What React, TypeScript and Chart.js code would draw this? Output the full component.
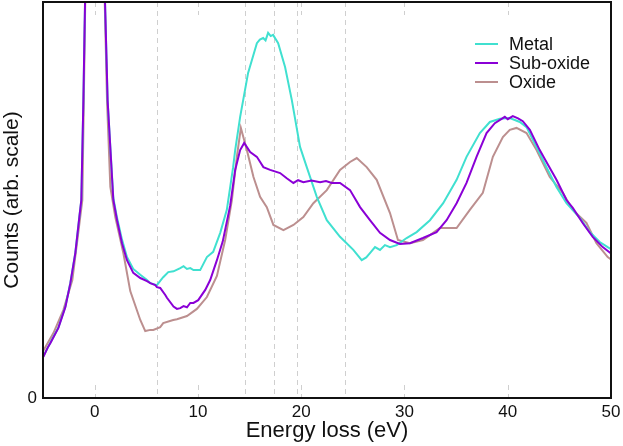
import React, { useEffect, useRef } from "react";
import { Chart, registerables } from "chart.js";

Chart.register(...registerables);

const FONT = "'Liberation Sans', Arial, Helvetica, sans-serif";

const seriesNames = ["Metal", "Sub-oxide", "Oxide"];
const seriesColors = ["#40E0D0", "#8A00D6", "#BC8F8F"];
const xTickValues = [0, 10, 20, 30, 40, 50];
const yTickValues = [0];
const markerEnergies = [6.0, 14.6, 17.4, 19.6, 24.2];
const stubEnergies = [0, 10, 20, 30, 40];

const metalEnergy = [-4.96, -4.28, -3.51, -2.83, -2.35, -1.87, -1.48, -1.29, -1.09, -0.8, 0, 0.8, 1.26, 1.81, 2.17, 2.65, 3.13, 3.74, 4.42, 5.07, 5.39, 6.03, 6.35, 6.64, 7.13, 7.64, 8.29, 8.61, 8.94, 9.26, 9.57, 10.22, 10.87, 11.48, 12.16, 12.8, 13.41, 13.61, 14.09, 14.86, 15.71, 16.0, 16.32, 16.55, 16.8, 17.05, 17.28, 17.77, 18.44, 19.09, 19.89, 20.54, 21.51, 22.48, 23.76, 25.05, 25.86, 26.3, 26.66, 27.15, 27.63, 28.11, 28.6, 29.25, 30.21, 31.18, 32.47, 33.75, 35.05, 36.01, 37.3, 38.27, 39.24, 40.2, 41.17, 41.82, 42.79, 43.75, 44.72, 45.69, 46.98, 47.94, 48.91, 49.68, 50];
const metalCounts = [10.6, 14.0, 17.8, 23.1, 29.1, 36.7, 45.8, 50, 75, 120, 400, 120, 75, 50.5, 45.5, 40.0, 35.6, 32.6, 31.1, 29.8, 29.0, 28.5, 29.6, 30.5, 31.8, 32.0, 32.8, 33.3, 32.6, 32.8, 32.3, 32.3, 35.6, 36.9, 41.7, 47.5, 58.3, 62.6, 71.0, 82.1, 89.6, 90.5, 90.9, 90.3, 92.2, 91.4, 91.7, 89.6, 83.6, 75.3, 63.4, 58.3, 50.8, 44.9, 40.7, 37.4, 34.8, 35.5, 36.6, 38.1, 37.4, 38.6, 38.1, 38.6, 40.4, 41.9, 44.9, 49.2, 55.1, 60.9, 66.9, 69.7, 70.5, 70.7, 69.7, 68.4, 63.4, 58.3, 53.3, 49.2, 45.5, 41.9, 39.4, 38.1, 37.6];

const subOxideEnergy = [-4.96, -4.57, -4.28, -3.51, -2.83, -2.35, -1.87, -1.48, -1.29, -1.09, -0.8, 0, 0.8, 1.26, 1.81, 2.17, 2.65, 3.13, 3.74, 4.42, 5.07, 5.39, 5.87, 6.03, 6.35, 6.84, 7.0, 7.64, 7.97, 8.29, 8.61, 8.94, 9.26, 9.57, 10.03, 10.71, 11.19, 11.84, 12.4, 13.12, 13.61, 14.09, 14.48, 15.06, 15.71, 16.34, 16.99, 17.96, 18.6, 19.25, 19.7, 20.21, 21.0, 21.83, 22.4, 22.96, 23.76, 24.73, 25.7, 26.66, 27.63, 28.6, 29.56, 30.53, 31.79, 33.11, 34.08, 35.05, 36.01, 36.98, 37.95, 38.75, 39.72, 40.0, 40.49, 41.0, 41.46, 42.14, 43.1, 43.75, 44.72, 45.69, 46.3, 47.26, 48.23, 49.2, 50];
const subOxideCounts = [10.4, 12.6, 13.9, 17.7, 23.0, 29.0, 36.6, 45.7, 50, 75, 120, 400, 120, 75, 50.0, 44.9, 39.1, 34.8, 31.6, 30.3, 29.5, 29.0, 28.5, 28.0, 27.8, 26.0, 25.3, 23.1, 22.5, 22.7, 23.2, 22.9, 24.0, 24.0, 24.7, 27.3, 29.8, 34.8, 39.5, 48.5, 57.6, 62.6, 64.4, 62.1, 60.9, 58.3, 57.6, 56.8, 55.5, 54.3, 55.0, 54.5, 54.9, 54.5, 54.8, 54.3, 54.3, 52.5, 48.2, 44.9, 41.7, 39.9, 38.9, 39.1, 40.4, 41.9, 44.9, 49.2, 54.3, 60.9, 66.9, 69.4, 71.0, 70.4, 71.2, 70.6, 69.9, 67.7, 62.6, 59.6, 55.1, 50.0, 48.0, 44.2, 40.7, 38.1, 36.5];

const oxideEnergy = [-4.96, -3.99, -3.03, -2.16, -1.67, -1.19, -1.05, -0.8, 0, 0.8, 1.2, 1.52, 2.0, 2.78, 3.45, 4.42, 4.9, 5.39, 5.68, 6.35, 6.64, 7.61, 7.97, 8.94, 9.9, 10.87, 11.84, 12.64, 13.29, 13.77, 14.16, 14.74, 15.38, 16.02, 16.67, 17.31, 18.28, 19.25, 20.21, 21.18, 22.48, 23.76, 24.73, 25.38, 26.34, 27.31, 28.6, 29.37, 30.53, 31.79, 33.43, 35.05, 36.33, 37.59, 38.56, 39.53, 40.2, 40.85, 41.82, 42.79, 44.07, 45.33, 46.3, 47.62, 48.59, 49.68, 50];
const oxideCounts = [12.0, 16.4, 22.2, 29.8, 39.9, 50.0, 75, 120, 400, 120, 75, 53.3, 45.7, 36.6, 27.0, 19.7, 16.9, 17.2, 17.2, 17.9, 18.9, 19.7, 19.9, 20.7, 22.5, 25.5, 30.8, 39.9, 50.0, 60.9, 68.2, 62.6, 55.8, 50.8, 48.2, 43.7, 42.4, 43.7, 45.7, 49.2, 52.5, 57.6, 59.6, 60.6, 58.3, 55.1, 46.7, 39.9, 39.1, 39.9, 42.9, 42.9, 47.5, 51.8, 60.9, 65.9, 67.7, 68.2, 66.9, 62.6, 55.8, 51.8, 47.5, 44.2, 39.1, 35.6, 35.0];

const seriesEnergy = [metalEnergy, subOxideEnergy, oxideEnergy];
const seriesCounts = [metalCounts, subOxideCounts, oxideCounts];
const drawOrder = [1, 0, 2];

const decorPlugin = {
  id: "decor",
  beforeDatasetsDraw(chart: any) {
    const { ctx, chartArea: a } = chart;
    const x = chart.scales.x;
    ctx.save();
    ctx.strokeStyle = "#cfcfcf";
    ctx.lineWidth = 1;
    ctx.setLineDash([5, 4]);
    for (const e of markerEnergies) {
      const px = Math.round(x.getPixelForValue(e)) + 0.5;
      ctx.beginPath();
      ctx.moveTo(px, a.top);
      ctx.lineTo(px, a.bottom);
      ctx.stroke();
    }
    for (const e of stubEnergies) {
      const px = Math.round(x.getPixelForValue(e)) + 0.5;
      ctx.beginPath();
      ctx.moveTo(px, a.top);
      ctx.lineTo(px, a.top + 13);
      ctx.moveTo(px, a.bottom - 13);
      ctx.lineTo(px, a.bottom);
      ctx.stroke();
    }
    ctx.restore();
  },
  afterDatasetsDraw(chart: any) {
    const { ctx, chartArea: a } = chart;
    ctx.save();
    ctx.setLineDash([]);
    ctx.strokeStyle = "#111";
    ctx.lineWidth = 2;
    ctx.strokeRect(a.left, a.top, a.right - a.left, a.bottom - a.top);
    ctx.font = `18px ${FONT}`;
    ctx.textBaseline = "middle";
    ctx.textAlign = "left";
    seriesNames.forEach((name, i) => {
      const y = a.top + 42 + i * 19;
      ctx.strokeStyle = seriesColors[i];
      ctx.lineWidth = 2;
      ctx.beginPath();
      ctx.moveTo(a.right - 136, y);
      ctx.lineTo(a.right - 113, y);
      ctx.stroke();
      ctx.fillStyle = "#111";
      ctx.fillText(name, a.right - 102, y + 1);
    });
    ctx.restore();
  },
};

export default function App() {
  const canvasRef = useRef<HTMLCanvasElement | null>(null);

  useEffect(() => {
    const canvas = canvasRef.current;
    if (!canvas) return;
    const chart = new Chart(canvas, {
      type: "line",
      data: {
        datasets: seriesNames.map((name, i) => ({
          label: name,
          data: seriesEnergy[i].map((e, j) => ({ x: e, y: seriesCounts[i][j] })),
          borderColor: seriesColors[i],
          backgroundColor: seriesColors[i],
          borderWidth: 2,
          pointRadius: 0,
          tension: 0,
          fill: false,
          order: drawOrder[i],
        })),
      },
      options: {
        animation: false,
        responsive: false,
        devicePixelRatio: 1,
        layout: { padding: { left: 0, right: 12, top: 2, bottom: 0 } },
        plugins: { legend: { display: false }, tooltip: { enabled: false } },
        scales: {
          x: {
            type: "linear",
            min: -5,
            max: 50,
            afterBuildTicks: (s: any) => {
              s.ticks = xTickValues.map((v) => ({ value: v }));
            },
            afterFit: (s: any) => {
              s.height = 48;
              s.paddingLeft = 0;
              s.paddingRight = 0;
            },
            grid: { display: false, drawTicks: false },
            border: { display: false },
            ticks: { padding: 4, color: "#111", font: { size: 17, family: FONT }, maxRotation: 0, autoSkip: false },
            title: { display: true, text: "Energy loss (eV)", color: "#111", font: { size: 22, family: FONT }, padding: { top: 0, bottom: 2 } },
          },
          y: {
            type: "linear",
            min: 0,
            max: 100,
            afterBuildTicks: (s: any) => {
              s.ticks = yTickValues.map((v) => ({ value: v }));
            },
            afterFit: (s: any) => {
              s.width = 43;
              s.paddingTop = 0;
              s.paddingBottom = 0;
            },
            grid: { display: false, drawTicks: false },
            border: { display: false },
            ticks: { padding: 6, color: "#111", font: { size: 17, family: FONT } },
            title: { display: true, text: "Counts (arb. scale)", color: "#111", font: { size: 21, family: FONT }, padding: { top: 0, bottom: 0 } },
          },
        },
      },
      plugins: [decorPlugin],
    } as any);
    return () => chart.destroy();
  }, []);

  return (
    <div style={{ position: "absolute", left: 0, top: 0, width: 623, height: 446, background: "#fff" }}>
      <canvas ref={canvasRef} width={623} height={446} style={{ width: 623, height: 446, display: "block" }} />
    </div>
  );
}
